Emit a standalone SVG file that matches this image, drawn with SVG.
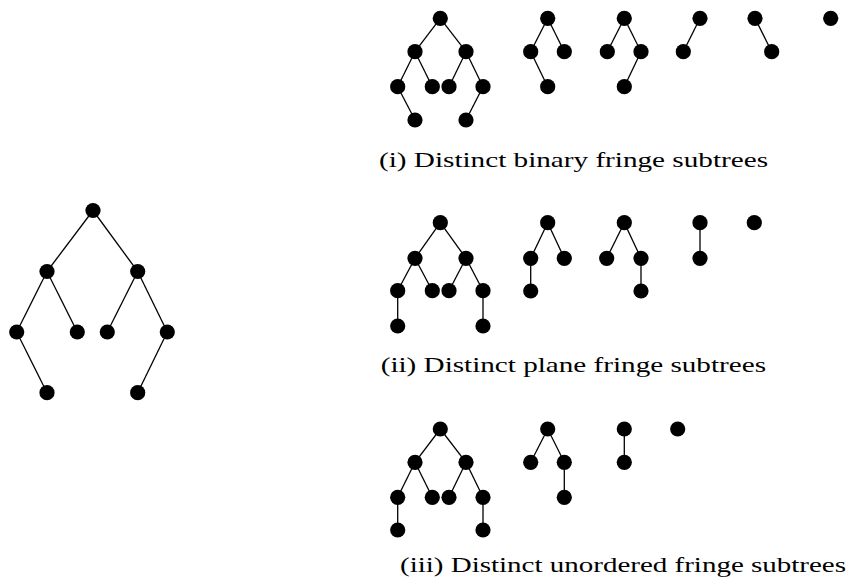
<svg xmlns="http://www.w3.org/2000/svg" width="848" height="581" viewBox="0 0 848 581">
<style>
.e line{stroke:#000;stroke-width:1.3}
.n{fill:#000}
.cap{font-family:"Liberation Serif","DejaVu Serif",serif;font-size:21.5px;fill:#000}
</style>
<defs><circle id="d" r="7.6"/></defs>
<rect width="848" height="581" fill="#fff"/>
<g id="connectors" class="e">
<!-- left tree -->
<line x1="93" y1="210.5" x2="47" y2="271.5"/><line x1="93" y1="210.5" x2="137.7" y2="271.5"/>
<line x1="47" y1="271.5" x2="16.7" y2="332"/><line x1="47" y1="271.5" x2="77.3" y2="332"/>
<line x1="137.7" y1="271.5" x2="107.3" y2="332"/><line x1="137.7" y1="271.5" x2="167.3" y2="332"/>
<line x1="16.7" y1="332" x2="47" y2="392.7"/><line x1="167.3" y1="332" x2="137.7" y2="392.7"/>
<!-- row 1 A -->
<line x1="440.3" y1="18.3" x2="415" y2="51.7"/><line x1="440.3" y1="18.3" x2="466" y2="51.7"/>
<line x1="415" y1="51.7" x2="397.7" y2="86.7"/><line x1="415" y1="51.7" x2="432.3" y2="86.7"/>
<line x1="466" y1="51.7" x2="449" y2="86.7"/><line x1="466" y1="51.7" x2="483" y2="86.7"/>
<line x1="397.7" y1="86.7" x2="415" y2="120"/><line x1="483" y1="86.7" x2="466" y2="120"/>
<!-- row 1 B -->
<line x1="547.7" y1="18.3" x2="530.7" y2="51.7"/><line x1="547.7" y1="18.3" x2="564.3" y2="51.7"/>
<line x1="530.7" y1="51.7" x2="547.7" y2="86.7"/>
<!-- row 1 C -->
<line x1="624.3" y1="18.3" x2="607.3" y2="51.7"/><line x1="624.3" y1="18.3" x2="641" y2="51.7"/>
<line x1="641" y1="51.7" x2="624.3" y2="86.7"/>
<!-- row 1 D, E -->
<line x1="700" y1="18.3" x2="683.3" y2="51.7"/>
<line x1="755" y1="18.3" x2="771.7" y2="51.7"/>
<!-- row 2 A -->
<line x1="440.3" y1="222.7" x2="415" y2="258.3"/><line x1="440.3" y1="222.7" x2="466" y2="258.3"/>
<line x1="415" y1="258.3" x2="397.7" y2="290.7"/><line x1="415" y1="258.3" x2="432.3" y2="290.7"/>
<line x1="466" y1="258.3" x2="449" y2="290.7"/><line x1="466" y1="258.3" x2="483" y2="290.7"/>
<line x1="397.7" y1="290.7" x2="397.7" y2="326"/><line x1="483" y1="290.7" x2="483" y2="326"/>
<!-- row 2 B -->
<line x1="547.7" y1="222.7" x2="530.7" y2="258.3"/><line x1="547.7" y1="222.7" x2="564.3" y2="258.3"/>
<line x1="530.7" y1="258.3" x2="530.7" y2="291"/>
<!-- row 2 C -->
<line x1="624.3" y1="222.7" x2="606.7" y2="258.3"/><line x1="624.3" y1="222.7" x2="641" y2="258.3"/>
<line x1="641" y1="258.3" x2="641" y2="291"/>
<!-- row 2 D -->
<line x1="700" y1="222.7" x2="700" y2="258.3"/>
<!-- row 3 A -->
<line x1="440.3" y1="429" x2="415" y2="462.3"/><line x1="440.3" y1="429" x2="466" y2="462.3"/>
<line x1="415" y1="462.3" x2="397.7" y2="497.3"/><line x1="415" y1="462.3" x2="432.3" y2="497.3"/>
<line x1="466" y1="462.3" x2="449" y2="497.3"/><line x1="466" y1="462.3" x2="483" y2="497.3"/>
<line x1="397.7" y1="497.3" x2="397.7" y2="530"/><line x1="483" y1="497.3" x2="483" y2="530"/>
<!-- row 3 B -->
<line x1="547.7" y1="429" x2="530.7" y2="462.3"/><line x1="547.7" y1="429" x2="564.3" y2="462.3"/>
<line x1="564.3" y1="462.3" x2="564.3" y2="497.3"/>
<!-- row 3 C -->
<line x1="624.3" y1="429" x2="624.3" y2="462.3"/>
</g>
<g id="tree-main" class="n">
<use href="#d" x="93" y="210.5"/><use href="#d" x="47" y="271.5"/><use href="#d" x="137.7" y="271.5"/>
<use href="#d" x="16.7" y="332"/><use href="#d" x="77.3" y="332"/><use href="#d" x="107.3" y="332"/><use href="#d" x="167.3" y="332"/>
<use href="#d" x="47" y="392.7"/><use href="#d" x="137.7" y="392.7"/>
</g>
<g id="binary-a" class="n">
<use href="#d" x="440.3" y="18.3"/><use href="#d" x="415" y="51.7"/><use href="#d" x="466" y="51.7"/>
<use href="#d" x="397.7" y="86.7"/><use href="#d" x="432.3" y="86.7"/><use href="#d" x="449" y="86.7"/><use href="#d" x="483" y="86.7"/>
<use href="#d" x="415" y="120"/><use href="#d" x="466" y="120"/>
</g>
<g id="binary-b" class="n"><use href="#d" x="547.7" y="18.3"/><use href="#d" x="530.7" y="51.7"/><use href="#d" x="564.3" y="51.7"/><use href="#d" x="547.7" y="86.7"/></g>
<g id="binary-c" class="n"><use href="#d" x="624.3" y="18.3"/><use href="#d" x="607.3" y="51.7"/><use href="#d" x="641" y="51.7"/><use href="#d" x="624.3" y="86.7"/></g>
<g id="binary-d" class="n"><use href="#d" x="700" y="18.3"/><use href="#d" x="683.3" y="51.7"/></g>
<g id="binary-e" class="n"><use href="#d" x="755" y="18.3"/><use href="#d" x="771.7" y="51.7"/></g>
<g id="binary-f" class="n"><use href="#d" x="830.7" y="18.3"/></g>
<g id="plane-a" class="n">
<use href="#d" x="440.3" y="222.7"/><use href="#d" x="415" y="258.3"/><use href="#d" x="466" y="258.3"/>
<use href="#d" x="397.7" y="290.7"/><use href="#d" x="432.3" y="290.7"/><use href="#d" x="449" y="290.7"/><use href="#d" x="483" y="290.7"/>
<use href="#d" x="397.7" y="326"/><use href="#d" x="483" y="326"/>
</g>
<g id="plane-b" class="n"><use href="#d" x="547.7" y="222.7"/><use href="#d" x="530.7" y="258.3"/><use href="#d" x="564.3" y="258.3"/><use href="#d" x="530.7" y="291"/></g>
<g id="plane-c" class="n"><use href="#d" x="624.3" y="222.7"/><use href="#d" x="606.7" y="258.3"/><use href="#d" x="641" y="258.3"/><use href="#d" x="641" y="291"/></g>
<g id="plane-d" class="n"><use href="#d" x="700" y="222.7"/><use href="#d" x="700" y="258.3"/></g>
<g id="plane-e" class="n"><use href="#d" x="754.3" y="222.7"/></g>
<g id="unordered-a" class="n">
<use href="#d" x="440.3" y="429"/><use href="#d" x="415" y="462.3"/><use href="#d" x="466" y="462.3"/>
<use href="#d" x="397.7" y="497.3"/><use href="#d" x="432.3" y="497.3"/><use href="#d" x="449" y="497.3"/><use href="#d" x="483" y="497.3"/>
<use href="#d" x="397.7" y="530"/><use href="#d" x="483" y="530"/>
</g>
<g id="unordered-b" class="n"><use href="#d" x="547.7" y="429"/><use href="#d" x="530.7" y="462.3"/><use href="#d" x="564.3" y="462.3"/><use href="#d" x="564.3" y="497.3"/></g>
<g id="unordered-c" class="n"><use href="#d" x="624.3" y="429"/><use href="#d" x="624.3" y="462.3"/></g>
<g id="unordered-d" class="n"><use href="#d" x="677.7" y="429"/></g>
<g id="captions">
<text class="cap" x="379" y="166.5" textLength="389" lengthAdjust="spacingAndGlyphs">(i) Distinct binary fringe subtrees</text>
<text class="cap" x="380.7" y="371.5" textLength="385.3" lengthAdjust="spacingAndGlyphs">(ii) Distinct plane fringe subtrees</text>
<text class="cap" x="400" y="572" textLength="446" lengthAdjust="spacingAndGlyphs">(iii) Distinct unordered fringe subtrees</text>
</g>
</svg>
